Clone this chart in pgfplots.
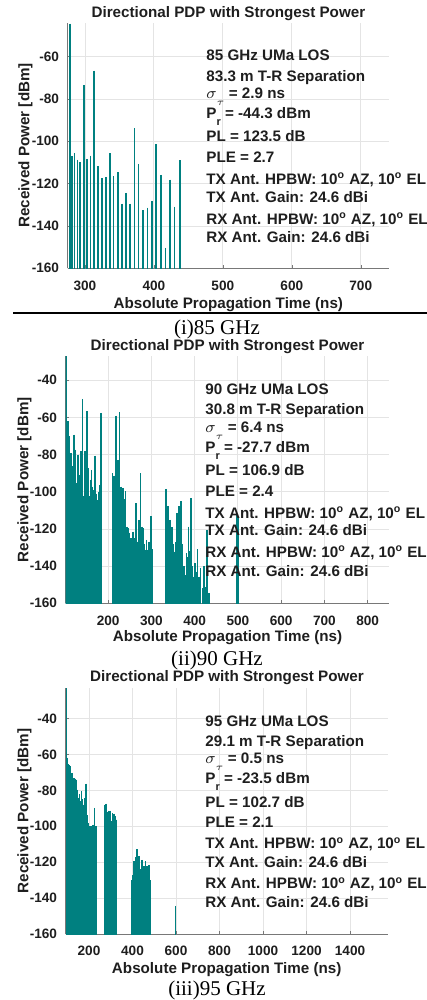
\documentclass[border=0pt]{standalone}
\usepackage{fontspec}
\setmainfont{Liberation Sans}
\newfontfamily\capfont{Liberation Serif}
\usepackage{pgfplots}
\pgfplotsset{compat=1.18}
\definecolor{pdp}{RGB}{0,128,128}
\definecolor{gridc}{RGB}{228,228,228}
\definecolor{axc}{RGB}{120,120,120}
\definecolor{txt}{RGB}{30,30,30}
\pgfplotsset{
  pdpax/.style={
    scale only axis,
    axis x line*=bottom, axis y line*=left,
    axis line style={draw=axc, line width=0.5pt, -},
    grid=major, major grid style={draw=gridc, line width=0.4pt},
    tick style={draw=axc}, major tick length=1.5pt, tick align=inside,
    ymin=-160,
    /pgf/number format/assume math mode=true,
    /pgf/number format/1000 sep={},
    scaled ticks=false,
    ticklabel style={font=\bfseries\fontsize{6.8}{8}\selectfont, text=txt},
    xticklabel style={yshift=-2.7pt},
    yticklabel style={xshift=-0.8pt},
  },
  bars/.style={draw=none, mark=none, forget plot,
    error bars/.cd, y dir=minus, y fixed=200, error mark=none,
    error bar style={draw=pdp, line width=#1, solid}},
}
\newcommand{\lab}{\bfseries\fontsize{7.6}{9}\selectfont\color{txt}}
\newcommand{\sub}[1]{\raisebox{-0.9ex}{\fontsize{5.5}{6}\selectfont #1}}
\begin{document}
\begin{tikzpicture}
\useasboundingbox (0pt,0pt) rectangle (213.5pt,-500pt);
% ---------------- panel 1 ----------------
\begin{axis}[pdpax, at={(33.85pt,-134.15pt)}, anchor=south west,
  width=160.65pt, height=122.8pt,
  xmin=275, xmax=741, ymax=-44,
  xtick={300,400,...,700}, ytick={-160,-140,...,-60}]
\addplot[bars=0.8pt] coordinates {
(278.3,-44.4) (281.2,-107.1) (285.0,-105.5) (289.4,-108.7) (293.2,-109.8)
(298.6,-73.5) (303.4,-108.3) (308.2,-106.8) (313.5,-66.6) (319.3,-111.8)
(325.1,-117.5) (330.4,-117) (336.2,-105.7) (341.5,-116.6) (347.8,-114.6)
(353.6,-129.5) (359.4,-124.4) (365.7,-129.5) (372.0,-93.8) (377.8,-110.7)
(384.5,-132.7) (390.8,-131.4) (397.1,-128.2) (403.4,-101.5) (410.1,-115.9)
(416.9,-150.4) (423.2,-118.1) (429.9,-130.9) (437.7,-109)
};
\end{axis}
% ---------------- panel 2 ----------------
\begin{axis}[pdpax, at={(32.85pt,-301.65pt)}, anchor=south west,
  width=161.8pt, height=123.65pt,
  xmin=102, xmax=850, ymax=-27,
  xtick={200,300,...,800}, ytick={-160,-140,...,-40}]
\addplot[bars=0.95pt] coordinates {
(103.6,-27.1) (105.8,-91) (107.4,-62.1) (110,-70.2) (112,-92) (113.8,-79.2) (115.8,-95) (117.7,-86.4) (120.8,-69.3)
(123.1,-77.4) (125.4,-95.3) (126.9,-101.6) (128.8,-98) (130.8,-80.1) (132.3,-97.2) (134.6,-90.8)
(137.7,-78.3) (139.3,-96) (140.8,-50.0) (143.9,-102.5) (145.5,-97) (147,-78.3) (149.3,-99) (151.6,-56.7) (153.9,-87.2)
(156.2,-102.5) (159.3,-93.5) (161.6,-88.2) (163.9,-97.2) (167,-98.9) (168.5,-100) (170.1,-80.6) (171.6,-101)
(173.1,-120.5) (176.2,-104.3) (178.5,-100) (180.8,-96.2) (183.9,-57.6)
(210.1,-90) (212,-100) (214,-91.4) (216.6,-99) (219.3,-59) (221.2,-98) (223.2,-82.8) (226.3,-57.3) (228.2,-99) (230.1,-97.2)
(232.4,-103) (234.8,-98) (237.5,-104) (240.2,-99.8) (243.2,-118.7) (246.3,-119.6) (248.2,-122) (250.1,-127.7) (252.4,-125)
(254.7,-134) (257.8,-121.4) (260.9,-126.8) (263.2,-125) (265.5,-106.1) (267.8,-126.8) (270.9,-115.1) (272.8,-124)
(274.8,-90) (277.9,-118.7) (281,-119.6) (283,-128) (284.8,-131.3) (288.7,-125.9) (291,-131.3)
(294.8,-126.8) (297.5,-126.8) (299.4,-113.3) (301.5,-131)
(333.7,-98.5) (336.3,-115) (339,-107.9) (342.9,-115.1) (346.7,-119) (349.5,-128) (352.1,-132.2) (356.7,-126.8)
(359.8,-111.5) (362,-125) (364.4,-107.9) (367.5,-105.2) (369.8,-128) (372.1,-145.7) (374.8,-140) (377.5,-144.8) (381.3,-133.1)
(383.5,-135) (385.9,-118.7) (388.6,-132) (391.3,-103.4) (393.9,-140) (396.7,-145.7) (400.5,-138.4) (404.4,-143) (406.7,-131)
(410.5,-145.7) (413.6,-141) (418.2,-151.9) (421.3,-140.2) (425.9,-151) (429,-120.5)
(433.6,-154.6)
(497.5,-112) (500,-113.5)
};
\end{axis}
% ---------------- panel 3 ----------------
\begin{axis}[pdpax, at={(32.85pt,-467pt)}, anchor=south west,
  width=161pt, height=123pt,
  xmin=93, xmax=1573, ymax=-23,
  xtick={200,400,...,1400}, ytick={-160,-140,...,-40}]
\addplot[bars=0.8pt] coordinates {
(96.5,-22.7) (99,-61.8) (101.5,-63.5) (104,-65.6) (108,-66.0) (112,-66.5) (116,-72.0)
(119,-76.8) (123,-70.2) (127,-76.0) (130,-73.1) (134,-77.7) (138,-73.5) (142,-74.0)
(146,-79.6) (150,-84.0) (153,-99.1) (157,-82.3) (161,-86.0) (165,-80.5) (169,-85.0)
(173,-88.0) (177,-88.9) (181,-84.0) (185,-76.2) (189,-89.8) (193,-94.0) (197,-98.2)
(201,-100.1) (205,-100.1) (208,-125.2) (211,-125.2) (214,-100.1) (218,-99.1)
(222,-101) (226,-89.8) (230,-100.1) (234,-100.1)
(274,-88) (277,-87.4) (281,-91.7) (285,-92) (289,-91.3) (293,-93) (297,-91.3)
(301,-97) (304,-100.1) (308,-92.6) (312,-94) (316,-93) (319,-94.5) (323,-96.3) (326,-96.3)
(399,-130) (401.3,-127) (404,-120) (407.4,-119.6) (410.5,-124) (413.6,-127) (416.5,-117)
(419.7,-112.7) (422,-118) (424.3,-122.4) (427,-117.5) (430.4,-116.8) (433.5,-125)
(436.6,-132.6) (439.5,-124) (442.7,-118.7) (445,-125) (447.3,-122.4) (450,-127)
(453.4,-124.3) (456.5,-122) (459.6,-119.6) (462.5,-128) (465.7,-122.4) (468,-140)
(470.3,-144.8) (473,-135) (476.4,-121.5) (479,-135) (481,-130)
(597,-144.4)
};
\end{axis}
% ---------------- texts ----------------
\begin{scope}[x=0.5pt,y=-0.5pt]
% panel 1
\node[anchor=base, font=\lab] at (228.4,17.3) {Directional PDP with Strongest Power};
\node[anchor=base, rotate=90, font=\lab] at (29.3,145.5) {Received Power [dBm]};
\node[anchor=base, font=\lab] at (228.3,308.3) {Absolute Propagation Time (ns)};
\begin{scope}[every node/.style={anchor=base west, font=\lab, inner sep=0pt}]
\node at (206,60.4) {85 GHz UMa LOS};
\node at (206,81.4) {83.3 m T-R Separation};
\node at (206,98.4) {$\sigma$\raisebox{-0.9ex}{$\scriptstyle\tau$} = 2.9 ns};
\node at (206,118.4) {P\sub{r} = -44.3 dBm};
\node at (206,141.4) {PL = 123.5 dB};
\node at (206,162.4) {PLE = 2.7};
\node at (206,184.4) {TX Ant. HPBW: 10\textsuperscript{o} AZ, 10\textsuperscript{o} EL};
\node at (206,202.4) {TX Ant. Gain: 24.6 dBi};
\node at (206,224.4) {RX Ant. HPBW: 10\textsuperscript{o} AZ, 10\textsuperscript{o} EL};
\node at (206,242.4) {RX Ant. Gain: 24.6 dBi};
\end{scope}
\draw[line width=0.85pt] (13.3,313.3) -- (427,313.3);
\node[anchor=base, font=\capfont\fontsize{10.5}{12}\selectfont] at (217,334) {(i)85 GHz};
% panel 2
\node[anchor=base, font=\lab] at (227.5,350) {Directional PDP with Strongest Power};
\node[anchor=base, rotate=90, font=\lab] at (28.3,479.7) {Received Power [dBm]};
\node[anchor=base, font=\lab] at (227.5,641.7) {Absolute Propagation Time (ns)};
\begin{scope}[every node/.style={anchor=base west, font=\lab, inner sep=0pt}]
\node at (205,394.6) {90 GHz UMa LOS};
\node at (205,414.6) {30.8 m T-R Separation};
\node at (205,432) {$\sigma$\raisebox{-0.9ex}{$\scriptstyle\tau$} = 6.4 ns};
\node at (205,452) {P\sub{r} = -27.7 dBm};
\node at (205,475.3) {PL = 106.9 dB};
\node at (205,496) {PLE = 2.4};
\node at (205,518) {TX Ant. HPBW: 10\textsuperscript{o} AZ, 10\textsuperscript{o} EL};
\node at (205,535.3) {TX Ant. Gain: 24.6 dBi};
\node at (205,557) {RX Ant. HPBW: 10\textsuperscript{o} AZ, 10\textsuperscript{o} EL};
\node at (205,576) {RX Ant. Gain: 24.6 dBi};
\end{scope}
\node[anchor=base, font=\capfont\fontsize{10.5}{12}\selectfont] at (217,665) {(ii)90 GHz};
% panel 3
\node[anchor=base, font=\lab] at (227,681.7) {Directional PDP with Strongest Power};
\node[anchor=base, rotate=90, font=\lab] at (28.3,811) {Received Power [dBm]};
\node[anchor=base, font=\lab] at (226.7,973.3) {Absolute Propagation Time (ns)};
\begin{scope}[every node/.style={anchor=base west, font=\lab, inner sep=0pt}]
\node at (205,726.4) {95 GHz UMa LOS};
\node at (205,746.4) {29.1 m T-R Separation};
\node at (205,763.7) {$\sigma$\raisebox{-0.9ex}{$\scriptstyle\tau$} = 0.5 ns};
\node at (205,783.7) {P\sub{r} = -23.5 dBm};
\node at (205,807) {PL = 102.7 dB};
\node at (205,827.7) {PLE = 2.1};
\node at (205,848.7) {TX Ant. HPBW: 10\textsuperscript{o} AZ, 10\textsuperscript{o} EL};
\node at (205,867) {TX Ant. Gain: 24.6 dBi};
\node at (205,888.7) {RX Ant. HPBW: 10\textsuperscript{o} AZ, 10\textsuperscript{o} EL};
\node at (205,907.7) {RX Ant. Gain: 24.6 dBi};
\end{scope}
\node[anchor=base, font=\capfont\fontsize{10.5}{12}\selectfont] at (217,995) {(iii)95 GHz};
\end{scope}
\end{tikzpicture}
\end{document}
